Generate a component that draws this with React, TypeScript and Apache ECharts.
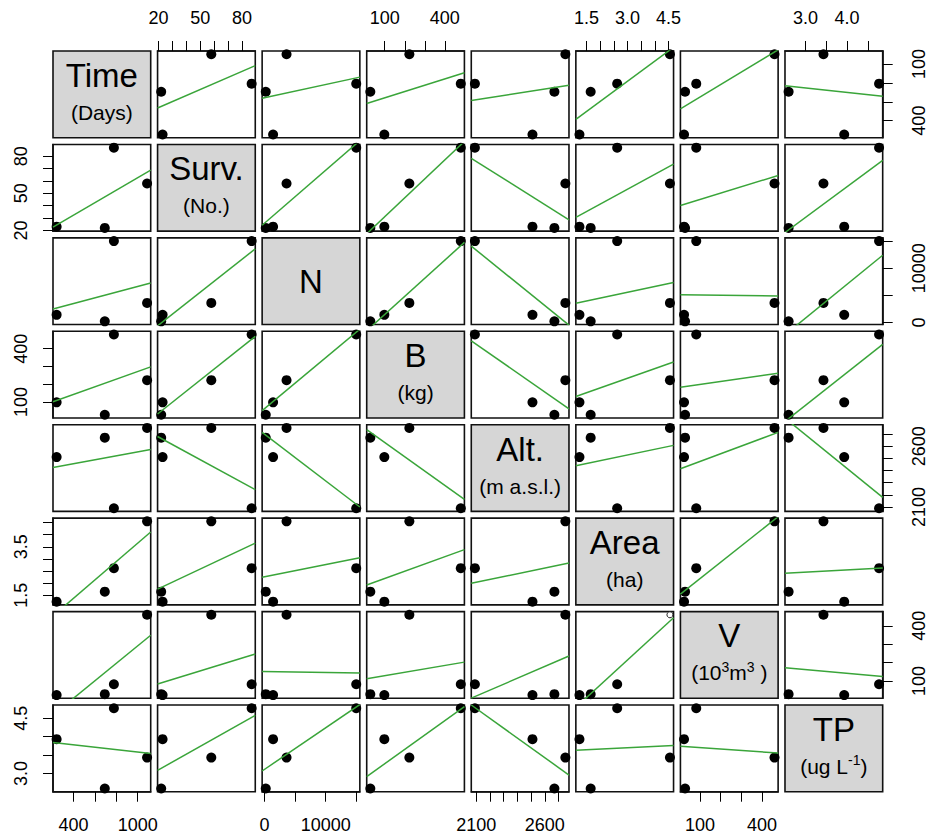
import React, { useEffect, useRef } from "react";
import * as echarts from "echarts";

// ---------------- data (4 observations) ----------------
const titles = ["Time", "Surv.", "N", "B", "Alt.", "Area", "V", "TP"];
const time = [243, 693, 778, 1088];
const surv = [23, 22, 87, 58];
const nCount = [1400, 200, 15000, 3600];
const biomass = [98, 28, 480, 223];
const alt = [2510, 2670, 2090, 2750];
const area = [1.24, 1.65, 2.62, 4.55];
const volume = [23, 28, 82, 460];
const tp = [3.93, 2.59, 4.77, 3.43];
const variables = [time, surv, nCount, biomass, alt, area, volume, tp];

// ---------------- tick values / tick labels ----------------
const timeTicks = [400, 600, 800, 1000];
const timeLabels = [400, 1000];
const survTicks = [20, 30, 40, 50, 60, 70, 80];
const survLabels = [20, 50, 80];
const nTicks = [0, 5000, 10000, 15000];
const nLabels = [0, 10000];
const bTicks = [100, 200, 300, 400];
const bLabels = [100, 400];
const altTicks = [2100, 2200, 2300, 2400, 2500, 2600, 2700];
const altLabels = [2100, 2600];
const areaTicks = [1.5, 2, 2.5, 3, 3.5, 4, 4.5];
const areaTopLabels = [1.5, 3, 4.5];
const areaLeftLabels = [1.5, 3.5];
const vTicks = [100, 200, 300, 400];
const vLabels = [100, 400];
const tpTicks = [3, 3.5, 4, 4.5];
const tpTopLabels = [3, 4];
const tpLeftLabels = [3, 4.5];
// right-hand scale printed on the first row of the reference (reversed)
const timeRightTicks = [100, 200, 300, 400];
const timeRightLabels = [100, 400];
const timeRightRange = [30.7, 490.6];

// ---------------- style / layout ----------------
const FONT = '"Liberation Sans", Arial, Helvetica, sans-serif';
const GREEN = "#3aa53a";
const LEFT0 = 53;
const TOP0 = 51;
const STEP_X = 104.57;
const STEP_Y = 93.43;
const PW = 97.7;
const PH = 86.7;

type Seg = { t: string; sup?: boolean };
const subtitles: Seg[][] = [
  [{ t: "(Days)" }],
  [{ t: "(No.)" }],
  [],
  [{ t: "(kg)" }],
  [{ t: "(m a.s.l.)" }],
  [{ t: "(ha)" }],
  [{ t: "(10" }, { t: "3", sup: true }, { t: "m" }, { t: "3", sup: true }, { t: " )" }],
  [{ t: "(ug L" }, { t: "-1", sup: true }, { t: ")" }],
];

type AxisSpec = { ticks: number[]; labels: number[]; dec: number };
const topSpec: Record<number, AxisSpec> = {
  1: { ticks: survTicks, labels: survLabels, dec: 0 },
  3: { ticks: bTicks, labels: bLabels, dec: 0 },
  5: { ticks: areaTicks, labels: areaTopLabels, dec: 1 },
  7: { ticks: tpTicks, labels: tpTopLabels, dec: 1 },
};
const bottomSpec: Record<number, AxisSpec> = {
  0: { ticks: timeTicks, labels: timeLabels, dec: 0 },
  2: { ticks: nTicks, labels: nLabels, dec: 0 },
  4: { ticks: altTicks, labels: altLabels, dec: 0 },
  6: { ticks: vTicks, labels: vLabels, dec: 0 },
};
const leftSpec: Record<number, AxisSpec> = {
  1: { ticks: survTicks, labels: survLabels, dec: 0 },
  3: { ticks: bTicks, labels: bLabels, dec: 0 },
  5: { ticks: areaTicks, labels: areaLeftLabels, dec: 1 },
  7: { ticks: tpTicks, labels: tpLeftLabels, dec: 1 },
};
const rightSpec: Record<number, AxisSpec> = {
  2: { ticks: nTicks, labels: nLabels, dec: 0 },
  4: { ticks: altTicks, labels: altLabels, dec: 0 },
  6: { ticks: vTicks, labels: vLabels, dec: 0 },
};

function padRange(v: number[]): [number, number] {
  const lo = Math.min(...v);
  const hi = Math.max(...v);
  const d = (hi - lo) * 0.04;
  return [lo - d, hi + d];
}

function fit(x: number[], y: number[]) {
  const n = x.length;
  const mx = x.reduce((a, b) => a + b, 0) / n;
  const my = y.reduce((a, b) => a + b, 0) / n;
  let sxy = 0;
  let sxx = 0;
  for (let k = 0; k < n; k++) {
    sxy += (x[k] - mx) * (y[k] - my);
    sxx += (x[k] - mx) * (x[k] - mx);
  }
  const b = sxy / sxx;
  return { a: my - b * mx, b };
}

function outer(spec: AxisSpec, side: "top" | "bottom" | "left" | "right") {
  const vertical = side === "left" || side === "right";
  return {
    show: true,
    axisLine: { show: true, lineStyle: { color: "#111", width: 1.6 } },
    axisTick: {
      show: true,
      inside: false,
      length: 10,
      lineStyle: { color: "#000", width: 1 },
      customValues: spec.ticks,
    },
    axisLabel: {
      show: true,
      customValues: spec.labels,
      formatter: (v: number) => (spec.dec ? Number(v).toFixed(spec.dec) : String(v)),
      color: "#000",
      fontSize: 18,
      fontFamily: FONT,
      margin: side === "right" ? 27 : side === "left" ? 23 : 24,
      rotate: vertical ? 90 : 0,
    },
    splitLine: { show: false },
  };
}

function buildOption() {
  const ranges = variables.map(padRange);
  const grids: any[] = [];
  const xAxes: any[] = [];
  const yAxes: any[] = [];
  const series: any[] = [];
  const graphics: any[] = [];

  for (let i = 0; i < 8; i++) {
    for (let j = 0; j < 8; j++) {
      const k = i * 8 + j;
      const left = LEFT0 + j * STEP_X;
      const top = TOP0 + i * STEP_Y;
      grids.push({
        left,
        top,
        width: PW,
        height: PH,
        show: true,
        borderColor: "#111",
        borderWidth: 1.6,
        backgroundColor: i === j ? "#d6d6d6" : "#fff",
      });
      const [xlo, xhi] = ranges[j];
      const [ylo, yhi] = ranges[i];
      let xa: any = { type: "value", gridIndex: k, min: xlo, max: xhi, show: false };
      if (i === 0 && topSpec[j]) xa = { ...xa, ...outer(topSpec[j], "top"), position: "top" };
      if (i === 7 && bottomSpec[j]) xa = { ...xa, ...outer(bottomSpec[j], "bottom"), position: "bottom" };
      let ya: any = { type: "value", gridIndex: k, min: ylo, max: yhi, show: false };
      if (j === 0 && leftSpec[i]) ya = { ...ya, ...outer(leftSpec[i], "left"), position: "left" };
      if (j === 7 && rightSpec[i]) ya = { ...ya, ...outer(rightSpec[i], "right"), position: "right" };
      xAxes.push(xa);
      yAxes.push(ya);

      if (i === j) {
        const cx = left + PW / 2;
        const cy = top + PH / 2;
        const subs = subtitles[i];
        graphics.push({
          type: "text",
          x: cx,
          y: subs.length ? cy - 19 : cy,
          style: {
            text: titles[i],
            fill: "#000",
            fontSize: 33,
            fontFamily: FONT,
            align: "center",
            verticalAlign: "middle",
            textAlign: "center",
            textVerticalAlign: "middle",
          },
        });
        if (subs.length) {
          const text = subs.map((s) => `{${s.sup ? "s" : "a"}|${s.t}}`).join("");
          graphics.push({
            type: "text",
            x: cx,
            y: cy + 18,
            style: {
              text,
              fill: "#000",
              fontFamily: FONT,
              fontSize: 21,
              align: "center",
              verticalAlign: "middle",
              textAlign: "center",
              textVerticalAlign: "middle",
              rich: {
                a: { fontSize: 21, fontFamily: FONT, fill: "#000", lineHeight: 26, verticalAlign: "middle" },
                s: { fontSize: 14, fontFamily: FONT, fill: "#000", verticalAlign: "top" },
              },
            },
          });
        }
        continue;
      }

      const xs = variables[j];
      const ysv = variables[i];
      const pts: any[] = xs.map((x, o) => {
        if (i === 6 && j === 5 && o === 3) {
          return {
            value: [x, ysv[o]],
            symbolSize: 6,
            itemStyle: { color: "#fff", borderColor: "#222", borderWidth: 1, opacity: 1 },
          };
        }
        return [x, ysv[o]];
      });
      series.push({
        type: "scatter",
        xAxisIndex: k,
        yAxisIndex: k,
        data: pts,
        symbol: "circle",
        symbolSize: 10,
        itemStyle: { color: "#000", opacity: 1 },
        silent: true,
        z: 2,
      });
      const { a, b } = fit(xs, ysv);
      series.push({
        type: "line",
        xAxisIndex: k,
        yAxisIndex: k,
        data: [
          [xlo, a + b * xlo],
          [xhi, a + b * xhi],
        ],
        symbol: "none",
        showSymbol: false,
        lineStyle: { color: GREEN, width: 1.5 },
        clip: true,
        silent: true,
        z: 3,
      });
    }
  }

  // printed right-hand scale of the first row
  yAxes.push({
    type: "value",
    gridIndex: 7,
    min: timeRightRange[0],
    max: timeRightRange[1],
    inverse: true,
    ...outer({ ticks: timeRightTicks, labels: timeRightLabels, dec: 0 }, "right"),
    position: "right",
  });

  return {
    animation: false,
    backgroundColor: "#fff",
    grid: grids,
    xAxis: xAxes,
    yAxis: yAxes,
    series,
    graphic: graphics,
  };
}

export default function App() {
  const ref = useRef<HTMLDivElement>(null);
  useEffect(() => {
    if (!ref.current) return;
    const chart = echarts.init(ref.current, undefined, { renderer: "svg" });
    chart.setOption(buildOption() as any);
    return () => chart.dispose();
  }, []);
  return (
    <div
      ref={ref}
      style={{ position: "absolute", left: 0, top: 0, width: 930, height: 836, background: "#fff" }}
    />
  );
}
